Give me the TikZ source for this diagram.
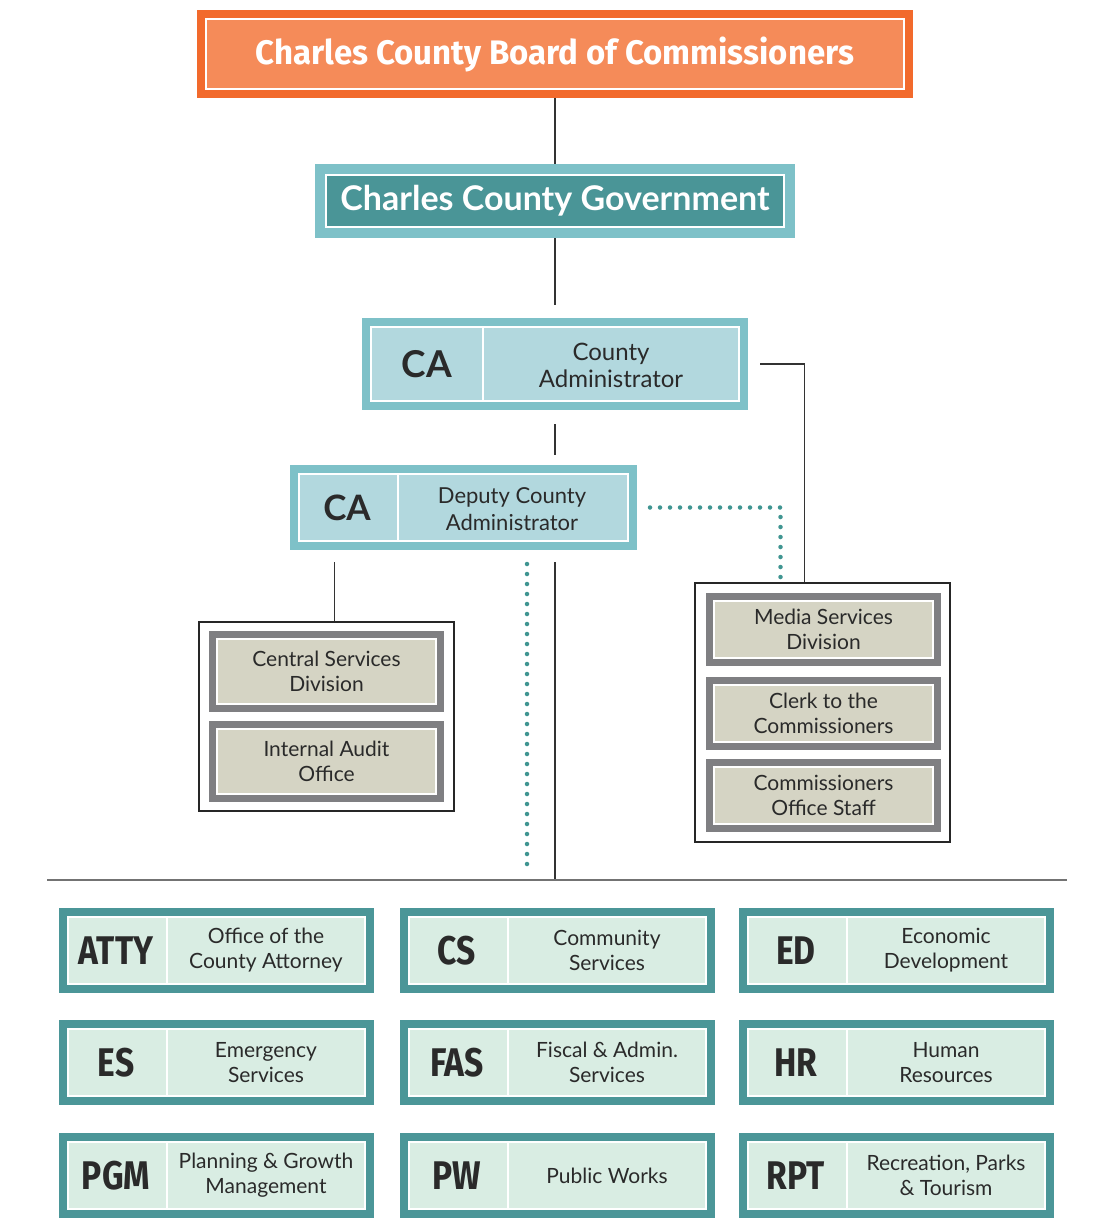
\documentclass[tikz,border=0pt]{standalone}
\usepackage{fontspec}
\setmainfont{Lato}
\newfontfamily\narrowfont[FakeStretch=0.84]{Fira Sans}
\newfontfamily\titlefont[FakeStretch=0.97]{Fira Sans}
\usetikzlibrary{positioning}

\definecolor{boardorange}{HTML}{F26A2C}
\definecolor{boardfill}{HTML}{F58B59}
\definecolor{govteal}{HTML}{7EC1C8}
\definecolor{govfill}{HTML}{4A9597}
\definecolor{cafill}{HTML}{B2D8DE}
\definecolor{unitgray}{HTML}{7F7F82}
\definecolor{unitfill}{HTML}{D5D4C4}
\definecolor{deptteal}{HTML}{4B9698}
\definecolor{deptfill}{HTML}{D9EDE3}
\definecolor{dotteal}{HTML}{3F9591}
\definecolor{inktext}{HTML}{2A2A2A}

\tikzset{
  framed/.style 2 args={draw=#1, line width=#2, inner sep=0pt, align=center,
    path picture={\draw[white, line width=2pt]
      ([shift={({#2/2+1pt},{-#2/2-1pt})}]path picture bounding box.north west) rectangle
      ([shift={({-#2/2-1pt},{#2/2+1pt})}]path picture bounding box.south east);}},
  group/.style={draw=black!85, line width=1.5pt, fill=white, inner sep=0pt},
  unit/.style={framed={unitgray}{7pt}, fill=unitfill, minimum width=228pt, text=inktext,
    font=\fontsize{21}{25}\selectfont},
  abbrev/.style={inner sep=0pt, text=inktext, font=\narrowfont\bfseries\fontsize{40}{44}\selectfont},
  desc/.style={inner sep=0pt, align=center, text=inktext, font=\fontsize{21}{25}\selectfont},
  divider/.style={white, line width=2pt},
  link/.style={draw=black!80, line width=1.5pt},
  dotlink/.style={draw=dotteal, line width=4.5pt, line cap=round, dash pattern=on 0pt off 10pt},
}

\begin{document}
\begin{tikzpicture}[x=1pt,y=-1pt]
\useasboundingbox[fill=white] (0,0) rectangle (1112,1225);

% top of the chart
\node[framed={boardorange}{8pt}, fill=boardfill, minimum width=708pt, minimum height=80pt,
  text=white, font=\titlefont\bfseries\fontsize{34}{38}\selectfont] (board) at (555,54) {Charles County Board of Commissioners};
\node[framed={govteal}{10pt}, fill=govfill, minimum width=470pt, minimum height=64pt,
  text=white, font=\bfseries\fontsize{34}{38}\selectfont] (gov) at (555,201) {Charles County Government};

\node[framed={govteal}{8pt}, fill=cafill, minimum width=378pt, minimum height=84pt] (ca) at (555,364) {};
\draw[divider] ([shift={(121pt,-8pt)}]ca.north west) -- ([shift={(121pt,8pt)}]ca.south west);
\node[abbrev, font=\bfseries\fontsize{37}{40}\selectfont] (ca-abbr) at (427,364) {CA};
\node[desc, font=\fontsize{24}{27}\selectfont] (ca-desc) at (611,365) {County\\Administrator};

\node[framed={govteal}{8pt}, fill=cafill, minimum width=339pt, minimum height=77pt] (dep) at (463.5,507.5) {};
\draw[divider] ([shift={(108pt,-8pt)}]dep.north west) -- ([shift={(108pt,8pt)}]dep.south west);
\node[abbrev, font=\bfseries\fontsize{35}{38}\selectfont] (dep-abbr) at (347,508) {CA};
\node[desc, font=\fontsize{22}{27}\selectfont] (dep-desc) at (512,509) {Deputy County\\Administrator};

% offices under the administrators
\node[group, minimum width=255pt, minimum height=189pt] (leftgrp) at (326.5,716.5) {};
\node[unit, minimum height=74pt] (central) at (326.5,671.5) {Central Services\\Division};
\node[unit, minimum height=74pt] (audit) at (326.5,761) {Internal Audit\\Office};

\node[group, minimum width=255pt, minimum height=259pt] (rightgrp) at (822.5,712.5) {};
\node[unit, minimum height=66pt] (media) at (823.5,629) {Media Services\\Division};
\node[unit, minimum height=66pt] (clerk) at (823.5,713.5) {Clerk to the\\Commissioners};
\node[unit, minimum height=66pt] (staff) at (823.5,795) {Commissioners\\Office Staff};

\coordinate (leftdrop) at ([xshift=8pt]leftgrp.north);
\coordinate (dotdrop) at (527,870);
\coordinate (barL) at (47,880);
\coordinate (barR) at (1067,880);

\draw[link] (board) -- (gov);
\draw[link, shorten >=13pt] (gov) -- (ca);
\draw[link, shorten <=14pt, shorten >=10pt] (ca.south) -- (ca.south |- dep.north);
\draw[link, shorten <=12pt] (ca.east) -| ([xshift=-18pt]rightgrp.north);
\draw[dotlink, shorten <=13pt, shorten >=5pt] (dep.east) -| ([xshift=-42pt]rightgrp.north);
\draw[link, shorten <=12pt] (leftdrop |- dep.south) -- (leftdrop);
\draw[dotlink, shorten <=14pt] (dotdrop |- dep.south) -- (dotdrop);
\draw[link, shorten <=12pt] (ca.south |- dep.south) -- (ca.south |- barL);
\draw[draw=black!55, line width=1.5pt] (barL) -- (barR);

% departments
\foreach \name/\x/\y/\abbr/\desc in {
  atty/216.5/950.5/ATTY/{Office of the\\County Attorney},
  cs/557.5/950.5/CS/{Community\\Services},
  ed/896.5/950.5/ED/{Economic\\Development},
  es/216.5/1062.5/ES/{Emergency\\Services},
  fas/557.5/1062.5/FAS/{Fiscal \& Admin.\\Services},
  hr/896.5/1062.5/HR/{Human\\Resources},
  pgm/216.5/1175.5/PGM/{Planning \& Growth\\Management},
  pw/557.5/1175.5/PW/{Public Works},
  rpt/896.5/1175.5/RPT/{Recreation, Parks\\\& Tourism}}{
  \node[framed={deptteal}{8pt}, fill=deptfill, minimum width=307pt, minimum height=77pt] (\name) at (\x,\y) {};
  \draw[divider] ([shift={(108pt,-8pt)}]\name.north west) -- ([shift={(108pt,8pt)}]\name.south west);
  \node[abbrev] (\name-abbr) at ([xshift=57pt]\name.west) {\abbr};
  \node[desc] (\name-desc) at ([xshift=207pt]\name.west) {\desc};
}

\end{tikzpicture}
\end{document}
